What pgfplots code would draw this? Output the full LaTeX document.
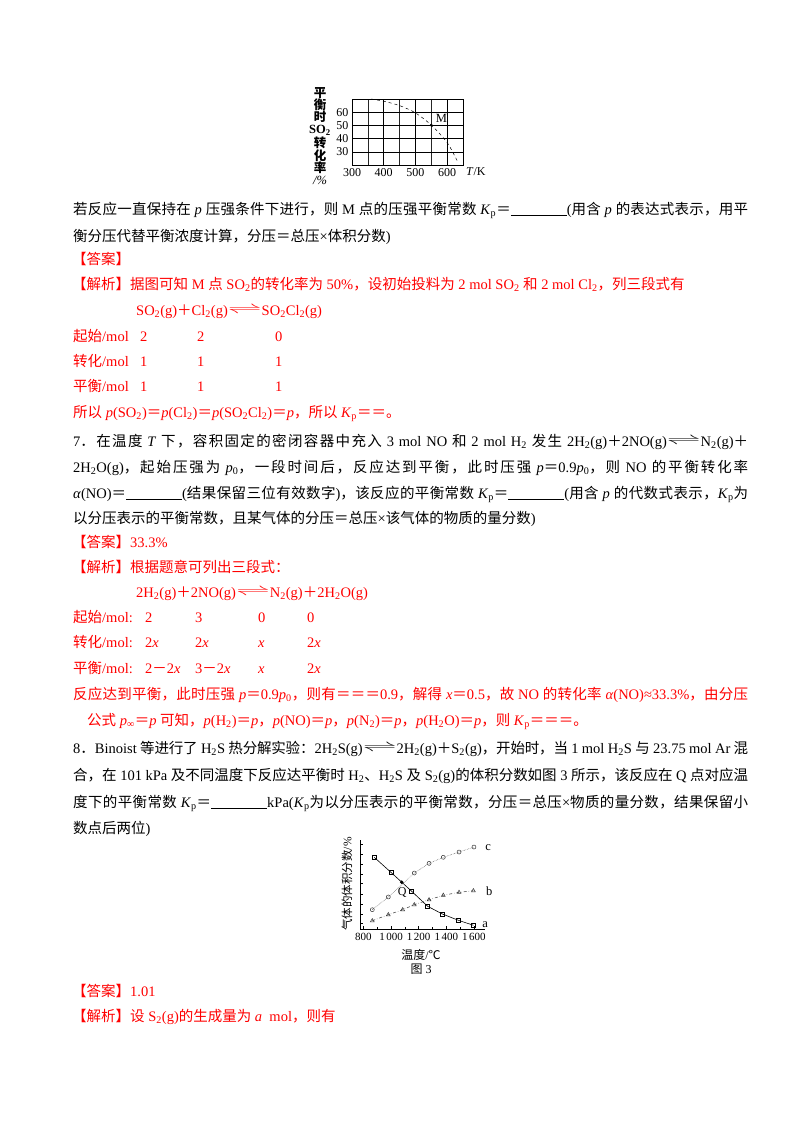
\documentclass[border=0pt]{standalone}
\usepackage{pgfplots}
\pgfplotsset{compat=1.18}
\usepackage{fontspec}
\setmainfont{Liberation Serif}
\newfontfamily\cjk{Noto Sans CJK SC}

% CJK characters switch to the CJK font on their own
\newXeTeXintercharclass\cjkcls
\makeatletter
\count@="4E00
\loop \XeTeXcharclass\count@=\cjkcls \advance\count@ 1 \ifnum\count@<"A000 \repeat
\count@="3000
\loop \XeTeXcharclass\count@=\cjkcls \advance\count@ 1 \ifnum\count@<"3040 \repeat
\count@="FF00
\loop \XeTeXcharclass\count@=\cjkcls \advance\count@ 1 \ifnum\count@<"FFF0 \repeat
\makeatother
\XeTeXinterchartoks 0 \cjkcls = {\cjk}
\XeTeXinterchartoks 4095 \cjkcls = {\cjk}
\XeTeXinterchartoks \cjkcls 0 = {\rmfamily}
\XeTeXinterchartoks \cjkcls 4095 = {\rmfamily}
\XeTeXinterchartoks \cjkcls \cjkcls = {\hskip 0pt plus 2pt minus 0.8pt\relax}

\newcommand\body{\fontsize{14.5}{17}\selectfont}
\newcommand\s[1]{\textsubscript{#1}}
\newcommand\Kp{\textit{K}\textsubscript{p}}
\newcommand\bl{\rule[-2pt]{56pt}{0.6pt}}
\newcommand\eqa{\raisebox{0.2ex}{\scalebox{2.4}[1]{$\rightleftharpoons$}}}
\newcommand\J[1]{\hbox to 675pt{#1}}
\newcommand\T[3]{\node[anchor=base west,inner sep=0pt] at (#1,#2+5) {#3};}

\begin{document}
\XeTeXinterchartokenstate=1
\begin{tikzpicture}
\begin{scope}[x=1pt,y=-1pt,font=\body]
\path (0,0) rectangle (800,1132);

% labels of the first chart
\node[align=center,inner sep=0pt,font=\fontsize{12.5}{12}\selectfont\bfseries] at (320,136)
  {平\\衡\\时\\SO\s{2}\\转\\化\\率\\{\mdseries\itshape /\%}};
\node[anchor=west,inner sep=0pt,font=\fontsize{12}{12}\selectfont] at (466,172) {\textit{T}/K};

\T{73}{209}{\J{若反应一直保持在 \textit{p} 压强条件下进行，则 M 点的压强平衡常数 \Kp＝\bl(用含 \textit{p} 的表达式表示，用平}}
\T{73}{236}{衡分压代替平衡浓度计算，分压＝总压×体积分数)}
\begin{scope}[text=red]
\T{72}{259}{【答案】}
\T{72}{284}{【解析】据图可知 M 点 SO\s{2}的转化率为 50\%，设初始投料为 2 mol SO\s{2} 和 2 mol Cl\s{2}，列三段式有}
\T{136}{310}{SO\s{2}(g)＋Cl\s{2}(g)\eqa SO\s{2}Cl\s{2}(g)}
\T{73}{336}{起始/mol} \T{140}{336}{2} \T{197}{336}{2} \T{275}{336}{0}
\T{73}{361}{转化/mol} \T{140}{361}{1} \T{197}{361}{1} \T{275}{361}{1}
\T{73}{386}{平衡/mol} \T{140}{386}{1} \T{197}{386}{1} \T{275}{386}{1}
\T{73}{412}{所以 \textit{p}(SO\s{2})＝\textit{p}(Cl\s{2})＝\textit{p}(SO\s{2}Cl\s{2})＝\textit{p}，所以 \Kp＝＝。}
\end{scope}

\T{73}{441}{\J{7．在温度 \textit{T} 下，容积固定的密闭容器中充入 3 mol NO 和 2 mol H\s{2} 发生 2H\s{2}(g)＋2NO(g)\eqa N\s{2}(g)＋}}
\T{73}{467}{\J{2H\s{2}O(g)，起始压强为 \textit{p}\s{0}，一段时间后，反应达到平衡，此时压强 \textit{p}＝0.9\textit{p}\s{0}，则 NO 的平衡转化率}}
\T{73}{493}{\J{\textit{α}(NO)＝\bl(结果保留三位有效数字)，该反应的平衡常数 \Kp＝\bl(用含 \textit{p} 的代数式表示，\Kp 为}}
\T{73}{518}{以分压表示的平衡常数，且某气体的分压＝总压×该气体的物质的量分数)}
\begin{scope}[text=red]
\T{72}{542}{【答案】33.3\%}
\T{72}{567}{【解析】根据题意可列出三段式：}
\T{136}{592}{2H\s{2}(g)＋2NO(g)\eqa N\s{2}(g)＋2H\s{2}O(g)}
\T{73}{617}{起始/mol:} \T{145}{617}{2} \T{195}{617}{3} \T{258}{617}{0} \T{307}{617}{0}
\T{73}{642}{转化/mol:} \T{145}{642}{2\textit{x}} \T{195}{642}{2\textit{x}} \T{258}{642}{\textit{x}} \T{307}{642}{2\textit{x}}
\T{73}{668}{平衡/mol:} \T{145}{668}{2－2\textit{x}} \T{195}{668}{3－2\textit{x}} \T{258}{668}{\textit{x}} \T{307}{668}{2\textit{x}}
\T{73}{694}{\J{反应达到平衡，此时压强 \textit{p}＝0.9\textit{p}\s{0}，则有＝＝＝0.9，解得 \textit{x}＝0.5，故 NO 的转化率 \textit{α}(NO)≈33.3\%，由分压}}
\T{87}{720}{公式 \textit{p}\s{∞}＝\textit{p} 可知，\textit{p}(H\s{2})＝\textit{p}，\textit{p}(NO)＝\textit{p}，\textit{p}(N\s{2})＝\textit{p}，\textit{p}(H\s{2}O)＝\textit{p}，则 \Kp＝＝＝。}
\end{scope}

\T{73}{748}{\J{8．Binoist 等进行了 H\s{2}S 热分解实验：2H\s{2}S(g)\eqa 2H\s{2}(g)＋S\s{2}(g)，开始时，当 1 mol H\s{2}S 与 23.75 mol Ar 混}}
\T{73}{775}{\J{合，在 101 kPa 及不同温度下反应达平衡时 H\s{2}、H\s{2}S 及 S\s{2}(g)的体积分数如图 3 所示，该反应在 Q 点对应温}}
\T{73}{802}{\J{度下的平衡常数 \Kp＝\bl kPa(\Kp 为以分压表示的平衡常数，分压＝总压×物质的量分数，结果保留小}}
\T{73}{828}{数点后两位)}

% labels of the second chart
\node[rotate=90,inner sep=0pt,font=\fontsize{11.5}{11}\selectfont] at (347,884) {气体的体积分数/\%};
\node[inner sep=0pt,font=\fontsize{12}{12}\selectfont] at (421,955) {温度/{\cjk ℃}};
\node[inner sep=0pt,font=\fontsize{12}{12}\selectfont] at (421,969) {图 3};

\begin{scope}[text=red]
\T{72}{991}{【答案】1.01}
\T{72}{1016}{【解析】设 S\s{2}(g)的生成量为 \textit{a}\ \ mol，则有}
\end{scope}
\end{scope}

% SO2 conversion against temperature
\begin{axis}[at={(352pt,-165pt)}, anchor=south west, scale only axis,
  width=111pt, height=66pt,
  xmin=300, xmax=650, ymin=20, ymax=70,
  xtick={300,400,500,600}, minor xtick={350,450,550,650},
  ytick={30,40,50,60}, minor ytick={20,70},
  grid=both,
  major grid style={black, line width=0.6pt},
  minor grid style={black!85, line width=0.4pt},
  axis line style={line width=0.5pt},
  tick style={draw=none},
  ticklabel style={font=\fontsize{12}{12}\selectfont},
  /pgf/number format/assume math mode=true,
  clip=false]
\addplot[black, dashed, smooth, line width=0.5pt] coordinates {
  (360,70) (400,68.3) (450,65) (500,59.5) (550,50.2) (600,37) (632,23)};
\addplot[only marks, mark=*, mark size=1.3pt] coordinates {(550,50.2)};
\node[font=\fontsize{12.5}{12}\selectfont] at (axis cs:582,55.4) {M};
\end{axis}

% volume fractions against temperature
\begin{axis}[at={(360pt,-929pt)}, anchor=south west, scale only axis,
  width=125pt, height=89pt,
  xmin=775, xmax=1680, ymin=0, ymax=100,
  axis lines=left, axis line style={-, line width=0.6pt},
  xtick={800,1000,1200,1400,1600},
  xticklabels={800,1\kern1.5pt000,1\kern1.5pt200,1\kern1.5pt400,1\kern1.5pt600},
  minor xtick={900,1100,1300,1500},
  ytick={6,17,28,39,51,62,73,84,95}, yticklabels={},
  tick align=inside, major tick length=3pt, minor tick length=2pt,
  tick style={black, line width=0.5pt},
  xticklabel style={font=\fontsize{11}{11}\selectfont, yshift=-1pt},
  clip=false]
\addplot[black, line width=0.6pt, mark=square, mark size=2pt,
  mark options={solid, fill=white}] coordinates {
  (878,80.6) (999,63.7) (1149,42.4) (1265,25.5) (1371,16.9) (1487,9.8) (1596,4.2)};
\addplot[black!70, densely dotted, line width=0.5pt, mark=o, mark size=2pt,
  mark options={solid, black!80}] coordinates {
  (864,21.7) (980,36) (1168,62.9) (1275,73.8) (1378,80.6) (1492,86.5) (1600,92.1)};
\addplot[black!80, dash dot, line width=0.5pt, mark=triangle, mark size=2.2pt,
  mark options={solid}] coordinates {
  (864,9.3) (980,16.1) (1084,21.7) (1168,27.3) (1275,32.9) (1378,37.9) (1492,41.2) (1596,43)};
\addplot[only marks, mark=*, mark size=1.6pt] coordinates {(1077,52.5)};
\node[font=\fontsize{12}{12}\selectfont] at (axis cs:1080,41.5) {Q};
\node[font=\fontsize{12.5}{12}\selectfont] at (axis cs:1702,92) {c};
\node[font=\fontsize{12.5}{12}\selectfont] at (axis cs:1710,42.7) {b};
\node[font=\fontsize{12.5}{12}\selectfont] at (axis cs:1681,4.5) {a};
\end{axis}
\end{tikzpicture}
\end{document}
